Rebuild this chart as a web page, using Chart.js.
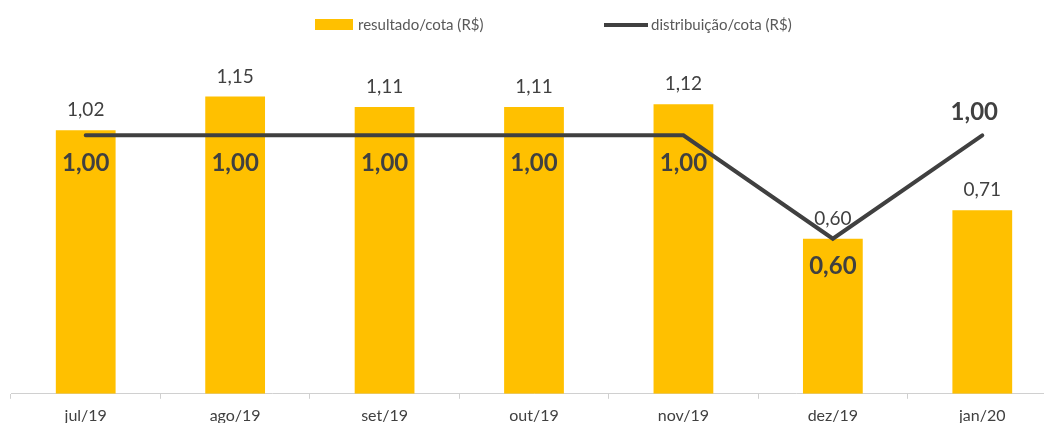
<!DOCTYPE html>
<html>
<head>
<meta charset="utf-8">
<script src="https://cdn.jsdelivr.net/npm/chart.js@4"></script>
<style>
  html, body { margin: 0; padding: 0; overflow: hidden; background: #fff; }
  #wrap { width: 1057px; height: 432px; }
</style>
</head>
<body>
<div id="wrap"><canvas id="chart"></canvas></div>
<script>
const months = ["jul/19", "ago/19", "set/19", "out/19", "nov/19", "dez/19", "jan/20"];
const resultado = [1.02, 1.15, 1.11, 1.11, 1.12, 0.60, 0.71];
const distribuicao = [1.00, 1.00, 1.00, 1.00, 1.00, 0.60, 1.00];

const GOLD = "#FFC000";
const DARK = "#404040";
const FONT = "Lato, 'Open Sans', sans-serif";

function fmt(v) {
  return v.toFixed(2).replace(".", ",");
}

// value labels over bars and along the line
const valueLabels = {
  id: "valueLabels",
  afterDatasetsDraw(chart) {
    const ctx = chart.ctx;
    ctx.save();
    ctx.textAlign = "center";
    ctx.fillStyle = DARK;

    const bars = chart.getDatasetMeta(1).data;
    ctx.font = "19px " + FONT;
    ctx.textBaseline = "alphabetic";
    bars.forEach(function (bar, i) {
      ctx.fillText(fmt(resultado[i]), bar.x, bar.y - 14);
    });

    const pts = chart.getDatasetMeta(0).data;
    ctx.font = "bold 24px " + FONT;
    ctx.textBaseline = "middle";
    pts.forEach(function (p, i) {
      const last = i === pts.length - 1;
      ctx.fillText(fmt(distribuicao[i]), p.x - (last ? 8 : 0), last ? p.y - 23 : p.y + 28);
    });
    ctx.restore();
  }
};

// legend drawn at the top, like the original
const topLegend = {
  id: "topLegend",
  afterDraw(chart) {
    const ctx = chart.ctx;
    const ds = chart.data.datasets;
    ctx.save();
    ctx.font = "15px " + FONT;
    ctx.textBaseline = "middle";
    ctx.textAlign = "left";

    ctx.fillStyle = GOLD;
    ctx.fillRect(315, 19, 38, 11);
    ctx.fillStyle = "#595959";
    ctx.fillText(ds[1].label, 358, 25);

    ctx.strokeStyle = DARK;
    ctx.lineWidth = 4;
    ctx.beginPath();
    ctx.moveTo(604, 25);
    ctx.lineTo(648, 25);
    ctx.stroke();
    ctx.fillText(ds[0].label, 651, 25);
    ctx.restore();
  }
};

new Chart(document.getElementById("chart"), {
  type: "bar",
  data: {
    labels: months,
    datasets: [
      {
        type: "line",
        label: "distribuição/cota (R$)",
        data: distribuicao,
        borderColor: DARK,
        backgroundColor: DARK,
        borderWidth: 4,
        borderCapStyle: "round",
        pointRadius: 0,
        tension: 0,
        order: 0
      },
      {
        label: "resultado/cota (R$)",
        data: resultado,
        backgroundColor: GOLD,
        categoryPercentage: 1,
        barPercentage: 0.4,
        order: 1
      }
    ]
  },
  options: {
    responsive: true,
    maintainAspectRatio: false,
    devicePixelRatio: 1,
    animation: false,
    layout: { padding: { top: 32, left: 11, right: 0, bottom: 0 } },
    plugins: {
      legend: { display: false },
      tooltip: { enabled: false }
    },
    scales: {
      x: {
        grid: {
          offset: true,
          drawOnChartArea: false,
          tickLength: 5,
          color: "#d0d0d0"
        },
        border: { display: true, color: "#d0d0d0" },
        ticks: {
          color: DARK,
          padding: 7,
          font: { family: FONT, size: 16 }
        }
      },
      y: {
        display: false,
        min: 0,
        max: 1.4
      }
    }
  },
  plugins: [valueLabels, topLegend]
});
</script>
</body>
</html>
